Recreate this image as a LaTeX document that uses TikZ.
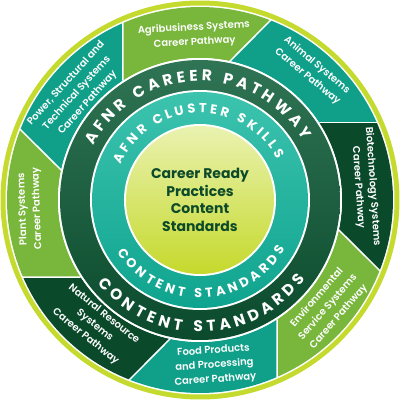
\documentclass[tikz,border=0pt]{standalone}
\usepackage{fontspec}
\setmainfont{Poppins}
\newfontfamily\semifont{Poppins SemiBold}
\usetikzlibrary{decorations.text}
\definecolor{limering}{HTML}{C5DA2F}
\definecolor{lightseg}{HTML}{78B63C}
\definecolor{tealseg}{HTML}{10A08A}
\definecolor{darkseg}{HTML}{0A4A2B}
\definecolor{ringdarktop}{HTML}{2F7454}
\definecolor{ringdarkbot}{HTML}{0B4A2C}
\definecolor{tealtop}{HTML}{3CC3AE}
\definecolor{tealbot}{HTML}{0FA48F}
\definecolor{centertop}{HTML}{EAF2B0}
\definecolor{centerbot}{HTML}{C5D92C}
\definecolor{ctext}{HTML}{0D4A2A}
\begin{document}
\begin{tikzpicture}[x=1pt,y=1pt,
  seglabel/.style={text=white, font=\semifont\fontsize{10}{14.5}\selectfont, align=center, inner sep=0pt}]
\useasboundingbox (-200pt,-200pt) rectangle (200pt,200pt);
% outer lime ring
\fill[limering] (0,0) circle[radius=199.5pt];
\fill[white] (0,0) circle[radius=194.5pt];
% pathway segments (pinwheel)
\foreach \t/\c in {0/tealseg,45/lightseg,90/tealseg,135/lightseg,180/darkseg,225/tealseg,270/lightseg,315/darkseg}{
  \fill[\c] (\t+32.84:142pt) -- (\t+23.51:193pt)
    arc[start angle=\t+23.51, end angle=\t+68.51, radius=193pt]
    -- (\t+77.84:142pt)
    arc[start angle=\t+77.84, end angle=\t+32.84, radius=142pt] -- cycle;
  \draw[white, line width=1.5pt] (\t+32.84:142pt) -- (\t+23.51:193.5pt);
}
% rings
\fill[white] (0,0) circle[radius=142pt];
\shade[top color=ringdarktop, bottom color=ringdarkbot] (0,0) circle[radius=140pt];
\fill[white] (0,0) circle[radius=110pt];
\shade[top color=tealtop, bottom color=tealbot] (0,0) circle[radius=108pt];
\fill[white] (0,0) circle[radius=76pt];
\shade[top color=centertop, bottom color=centerbot] (0,0) circle[radius=74pt];
% ring texts
\path[decorate, decoration={text along path, text color=white, text align={fit to path},
  text={|\bfseries\fontsize{15.5}{15.5}\selectfont|AFNR CAREER PATHWAY}}]
  (153:119pt) arc[start angle=153, end angle=30, radius=119pt];
\path[decorate, decoration={text along path, text color=white, text align={fit to path},
  text={|\bfseries\fontsize{13}{13}\selectfont|AFNR CLUSTER SKILLS}}]
  (156:87pt) arc[start angle=156, end angle=28, radius=87pt];
\path[decorate, decoration={text along path, text color=white, text align={fit to path},
  text={|\bfseries\fontsize{15.5}{15.5}\selectfont|CONTENT STANDARDS}}]
  (219:132pt) arc[start angle=219, end angle=323, radius=132pt];
\path[decorate, decoration={text along path, text color=white, text align={fit to path},
  text={|\bfseries\fontsize{13}{13}\selectfont|CONTENT STANDARDS}}]
  (212:98pt) arc[start angle=212, end angle=330, radius=98pt];
% center
\node[font=\bfseries\fontsize{14}{17.5}\selectfont, text=ctext, align=center] (ctr) at (0,0)
  {Career Ready\\Practices\\Content\\Standards};
% segment labels
\node[seglabel, rotate=3] (agri) at (92:165pt) {Agribusiness Systems\\Career Pathway};
\node[seglabel, rotate=-40] (anim) at (49:171pt) {Animal Systems\\Career Pathway};
\node[seglabel, rotate=-86] (bio) at (4.5:166pt) {Biotechnology Systems\\Career Pathway};
\node[seglabel, rotate=49] (env) at (320:167pt) {Environmental\\Service Systems\\Career Pathway};
\node[seglabel, rotate=4] (food) at (275:166pt) {Food Products\\and Processing\\Career Pathway};
\node[seglabel, rotate=-39] (nat) at (230:164pt) {Natural Resource\\Systems\\Career Pathway};
\node[seglabel, rotate=92] (plant) at (183:170pt) {Plant Systems\\Career Pathway};
\node[seglabel, rotate=48] (power) at (139:163pt) {Power, Structural and\\Technical Systems\\Career Pathway};
\end{tikzpicture}
\end{document}
